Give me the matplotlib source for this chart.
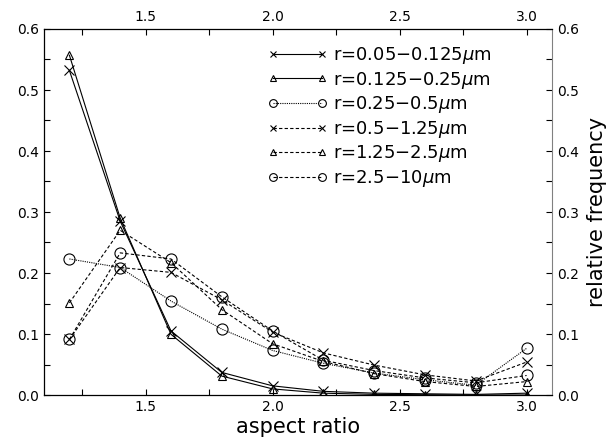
import matplotlib
matplotlib.use("Agg")
import matplotlib.pyplot as plt
import numpy as np

aspect_ratio = [1.2, 1.4, 1.6, 1.8, 2.0, 2.2, 2.4, 2.6, 2.8, 3.0]

labels = [r"r=0.05$-$0.125$\mu$m", r"r=0.125$-$0.25$\mu$m", r"r=0.25$-$0.5$\mu$m",
          r"r=0.5$-$1.25$\mu$m", r"r=1.25$-$2.5$\mu$m", r"r=2.5$-$10$\mu$m"]

s1 = [0.532, 0.285, 0.105, 0.037, 0.015, 0.006, 0.003, 0.002, 0.001, 0.003]
s2 = [0.557, 0.290, 0.0995, 0.031, 0.010, 0.003, 0.001, 0.0005, 0.0, 0.0]
s3 = [0.223, 0.209, 0.154, 0.108, 0.073, 0.052, 0.036, 0.025, 0.016, 0.0765]
s4 = [0.091, 0.209, 0.201, 0.156, 0.103, 0.069, 0.049, 0.033, 0.023, 0.054]
s5 = [0.151, 0.270, 0.217, 0.140, 0.084, 0.055, 0.035, 0.022, 0.014, 0.022]
s6 = [0.091, 0.233, 0.223, 0.161, 0.105, 0.057, 0.040, 0.028, 0.020, 0.032]

series = [s1, s2, s3, s4, s5, s6]
markers = ['x', '^', 'o', 'x', '^', 'o']
msizes = [7, 6, 8, 7, 6, 8]
styles = ['-', '-', (0, (1, 1)), (0, (3, 2)), (0, (3, 2)), (0, (3, 2))]

plt.rcParams['font.family'] = ['DejaVu Sans']
fig = plt.figure(figsize=(6.14, 4.40), dpi=100)
ax = fig.add_axes([44/614, 1-395/440, (552-44)/614, (395-29)/440])

handles = []
for s, m, ms, ls, lab in zip(series, markers, msizes, styles, labels):
    h, = ax.plot(aspect_ratio, s, color='black', linestyle=ls, linewidth=0.8,
                 marker=m, markersize=ms, markerfacecolor='none',
                 markeredgecolor='black', markeredgewidth=0.8, label=lab)
    handles.append(h)

ax.set_xlim(1.1, 3.1)
ax.set_ylim(0.0, 0.6)
ax.set_xticks([1.5, 2.0, 2.5, 3.0])
ax.set_xticks(np.arange(1.25, 3.1, 0.25), minor=True)
ax.set_yticks(np.arange(0, 0.61, 0.1))
ax.set_yticks(np.arange(0.05, 0.6, 0.1), minor=True)
ax.xaxis.set_major_formatter(matplotlib.ticker.FormatStrFormatter('%.1f'))
ax.yaxis.set_major_formatter(matplotlib.ticker.FormatStrFormatter('%.1f'))
ax.tick_params(which='both', direction='in', top=True, right=True,
               labeltop=True, labelright=True, labelsize=10, width=0.8)
ax.tick_params(which='major', length=4)
ax.tick_params(which='minor', length=4)
ax.spines['right'].set_color('gray')
for sp in ['left', 'bottom', 'top']:
    ax.spines[sp].set_linewidth(0.9)

ax.set_xlabel('aspect ratio', fontsize=15, labelpad=2)
ax.yaxis.set_label_position('right')
ax.set_ylabel('relative frequency', fontsize=15, labelpad=6)

leg = fig.legend(handles=handles, loc='upper left',
                 bbox_to_anchor=(268/614, 1-45/440), bbox_transform=fig.transFigure,
                 frameon=False, fontsize=13, numpoints=2, handlelength=3.3,
                 handletextpad=0.3, labelspacing=0.2, borderpad=0, borderaxespad=0,
                 markerscale=0.7)

fig.savefig('out.png', dpi=100)
